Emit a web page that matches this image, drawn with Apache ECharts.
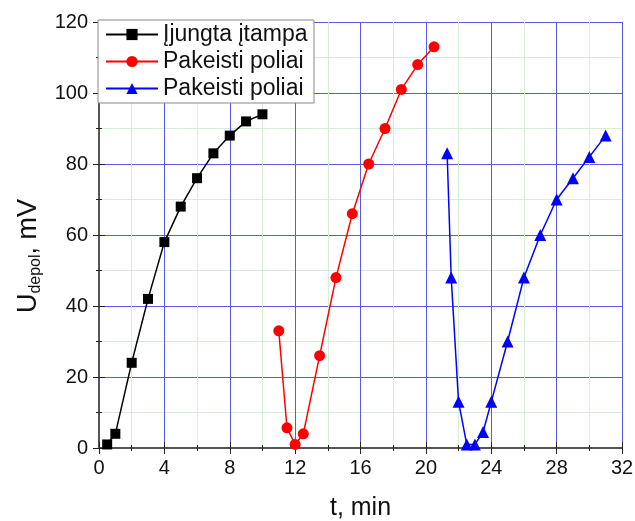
<!DOCTYPE html>
<html><head><meta charset="utf-8">
<script src="https://cdn.jsdelivr.net/npm/echarts@6/dist/echarts.min.js"></script>
<style>html,body{margin:0;padding:0;background:#fff}#c{width:635px;height:521px}</style>
</head><body><div id="c"></div>
<script>
const seriesNames = ["Įjungta įtampa", "Pakeisti poliai", "Pakeisti poliai "];
const blackX = [0.5, 1, 2, 3, 4, 5, 6, 7, 8, 9, 10];
const blackY = [1, 4, 24, 42, 58, 68, 76, 83, 88, 92, 94];
const redX = [11, 11.5, 12, 12.5, 13.5, 14.5, 15.5, 16.5, 17.5, 18.5, 19.5, 20.5];
const redY = [33, 5.7, 1, 4, 26, 48, 66, 80, 90, 101, 108, 113];
const blueX = [21.3, 21.55, 22, 22.5, 23, 23.5, 24, 25, 26, 27, 28, 29, 30, 31];
const blueY = [83, 48, 13, 1, 1, 4.5, 13, 30, 48, 60, 70, 76, 82, 88];
const xTicks = [0, 4, 8, 12, 16, 20, 24, 28, 32];
const yTicks = [0, 20, 40, 60, 80, 100, 120];

const zip = (a, b) => a.map((v, i) => [v, b[i]]);
const font = "Liberation Sans, Arial, sans-serif";
const majorColor = "#5a5ae6";
const minorColor = "#d6edd6";
const frame = "#555";
const tickCol = "#222";

const chart = echarts.init(document.getElementById('c'), null, {renderer: 'canvas'});
const baseX = {
  type: 'value', min: 0, max: 32, interval: 4,
  minorTick: {show: true, splitNumber: 2, length: 3, lineStyle: {color: tickCol}},
  axisTick: {show: true, inside: true, length: 6, lineStyle: {color: tickCol}},
};
const baseY = {
  type: 'value', min: 0, max: 120, interval: 20,
  minorTick: {show: true, splitNumber: 2, length: 3, lineStyle: {color: tickCol}},
  axisTick: {show: true, inside: true, length: 6, lineStyle: {color: tickCol}},
};
chart.setOption({
  animation: false,
  backgroundColor: '#fff',
  grid: {left: 99, right: 13, top: 22, bottom: 73, containLabel: false, outerBoundsMode: 'none'},
  legend: {
    left: 98, top: 20, orient: 'vertical',
    backgroundColor: '#fff', borderColor: '#888', borderWidth: 1,
    padding: [3, 4, 3, 7], itemGap: 4, itemWidth: 52, itemHeight: 14,
    textStyle: {fontFamily: font, fontSize: 23, color: '#111'},
    data: seriesNames
  },
  xAxis: [
    Object.assign({}, baseX, {
      position: 'bottom',
      name: 't, min', nameLocation: 'middle', nameGap: 48,
      nameTextStyle: {fontFamily: font, fontSize: 25, color: '#111'},
      axisLine: {show: true, lineStyle: {color: frame, width: 2}},
      axisLabel: {fontFamily: font, fontSize: 20, color: '#111', margin: 10,
        formatter: v => xTicks.includes(v) ? String(v) : ''},
      splitLine: {show: true, lineStyle: {color: majorColor, width: 1}},
      minorSplitLine: {show: true, lineStyle: {color: minorColor, width: 1}}
    }),
    Object.assign({}, baseX, {
      position: 'top',
      axisLine: {show: true, lineStyle: {color: frame, width: 2}},
      axisLabel: {show: false},
      splitLine: {show: false}
    })
  ],
  yAxis: [
    Object.assign({}, baseY, {
      position: 'left',
      name: '{a|U}{s|depol}{a|, mV}', nameLocation: 'middle', nameGap: 48, nameRotate: 90,
      nameTextStyle: {padding: [0, 42, 0, 0], rich: {
        a: {fontFamily: font, fontSize: 27, color: '#111'},
        s: {fontFamily: font, fontSize: 16, color: '#111', verticalAlign: 'bottom', padding: [14, 0, 0, 0]}
      }},
      axisLine: {show: true, lineStyle: {color: frame, width: 2}},
      axisLabel: {fontFamily: font, fontSize: 20, color: '#111', margin: 11,
        formatter: v => yTicks.includes(v) ? String(v) : ''},
      splitLine: {show: true, lineStyle: {color: majorColor, width: 1}},
      minorSplitLine: {show: true, lineStyle: {color: minorColor, width: 1}}
    }),
    Object.assign({}, baseY, {
      position: 'right',
      axisLine: {show: true, lineStyle: {color: frame, width: 2}},
      axisLabel: {show: false},
      splitLine: {show: false}
    })
  ],
  series: [
    {name: seriesNames[0], type: 'line', data: zip(blackX, blackY), symbol: 'rect', symbolSize: 10,
      itemStyle: {color: '#000'}, lineStyle: {color: '#000', width: 1.5}},
    {name: seriesNames[1], type: 'line', data: zip(redX, redY), symbol: 'circle', symbolSize: 11,
      itemStyle: {color: '#ff0000'}, lineStyle: {color: '#ff0000', width: 1.5}},
    {name: seriesNames[2], type: 'line', data: zip(blueX, blueY), symbol: 'triangle', symbolSize: 12,
      itemStyle: {color: '#0000ff'}, lineStyle: {color: '#0000ff', width: 1.5}}
  ]
});
</script>
</body></html>
